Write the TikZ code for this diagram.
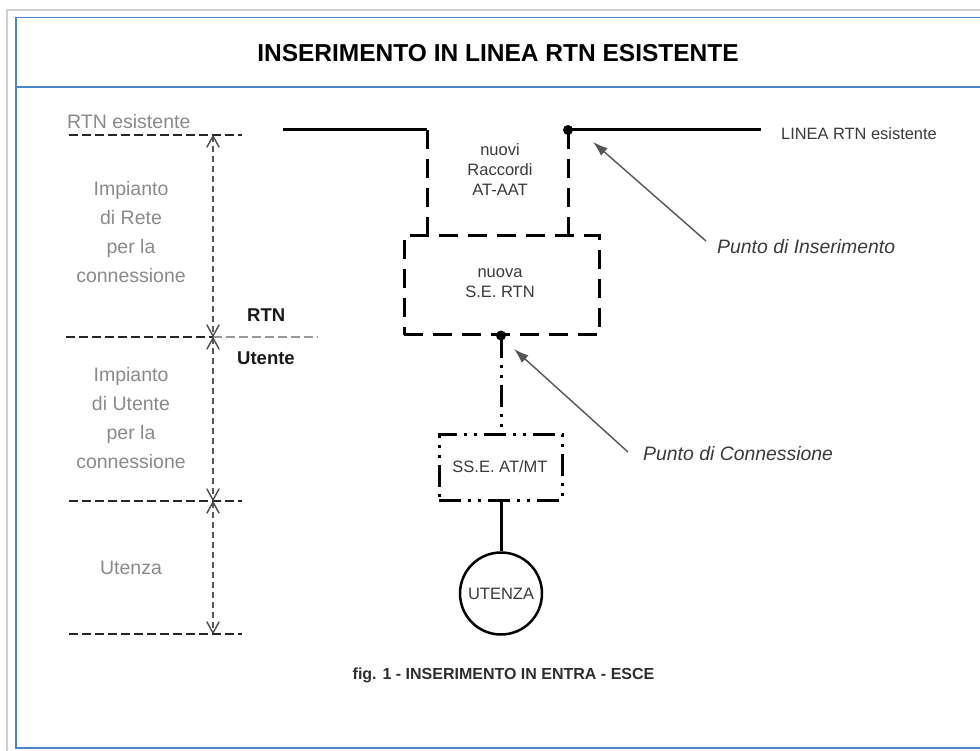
\documentclass[tikz,border=0pt]{standalone}
\usepackage{fontspec}
\setmainfont{Liberation Sans}
\usetikzlibrary{arrows.meta}
\definecolor{frameblue}{HTML}{4A86C5}
\definecolor{framegrey}{HTML}{CFCFCF}
\definecolor{lbl}{HTML}{8A8A8A}
\definecolor{txt}{HTML}{3A3A3A}
\definecolor{ptr}{HTML}{555555}
\tikzset{
  lbltext/.style={inner sep=0pt, text=lbl, align=center, font=\fontsize{19.5}{29.3}\selectfont},
  boldlbl/.style={inner sep=0pt, text=black!90, font=\fontsize{18.5}{22}\selectfont\bfseries},
  dtext/.style={inner sep=0pt, text=txt, align=center, font=\fontsize{16.5}{20}\selectfont},
  itext/.style={inner sep=0pt, text=txt, font=\fontsize{19.4}{22}\selectfont\itshape},
  levelline/.style={line width=1.5pt, black!85, dash pattern=on 9pt off 4pt},
  span/.style={line width=1.2pt, black!65, dash pattern=on 6pt off 4pt},
  barb/.style={line width=1.4pt, black!70, solid, line cap=round, line join=round},
  mainline/.style={line width=3pt, black},
  dashline/.style={line width=3pt, black, dash pattern=on 19pt off 10pt},
  dotdash/.style={line width=3pt, black, dash pattern=on 22pt off 7pt on 3pt off 7pt on 3pt off 7pt},
  pointer/.style={line width=1.4pt, ptr, -{Latex[length=15pt,width=10pt]}},
  junction/.style={circle, fill=black, inner sep=0pt, minimum size=10pt},
}
\begin{document}
\begin{tikzpicture}[x=1pt,y=-1pt]
\useasboundingbox (0,0) rectangle (980,751);
% frame
\draw[framegrey, line width=1.5pt] (980,10) -- (7,10) -- (7,751);
\draw[frameblue, line width=1.8pt] (980,17.5) -- (16,17.5) -- (16,748) -- (980,748);
\draw[frameblue, line width=1.8pt] (16,87) -- (980,87);
\node[inner sep=0pt, font=\fontsize{24.5}{27}\selectfont\bfseries] (title) at (498,53) {INSERIMENTO IN LINEA RTN ESISTENTE};

% left scale
\node[lbltext, anchor=west] (rtnes) at (67,122) {RTN esistente};
\coordinate (l1a) at (69,135);  \coordinate (l1b) at (242,135);
\coordinate (l2a) at (66,337);  \coordinate (l2m) at (213,337); \coordinate (l2b) at (318,337);
\coordinate (l3a) at (69,501);  \coordinate (l3b) at (242,501);
\coordinate (l4a) at (69,634);  \coordinate (l4b) at (242,634);
\draw[levelline] (l1a) -- (l1b);
\draw[levelline] (l2a) -- (l2m);
\draw[levelline, black!40] (l2m) -- (l2b);
\draw[levelline] (l3a) -- (l3b);
\draw[levelline] (l4a) -- (l4b);
\coordinate (a1) at (213,136); \coordinate (a2) at (213,336);
\coordinate (a2b) at (213,338);
\coordinate (a3) at (213,500); \coordinate (a3b) at (213,502);
\coordinate (a4) at (213,633);
\draw[span] (a1) -- (a2);
\draw[span] (a2b) -- (a3);
\draw[span] (a3b) -- (a4);
\foreach \p in {a1,a2b,a3b} \draw[barb] (\p) +(-6,11) -- (\p) -- +(6,11);
\foreach \p in {a2,a3,a4} \draw[barb] (\p) +(-6,-11) -- (\p) -- +(6,-11);
\node[lbltext] (rete) at (131,232) {Impianto\\di Rete\\per la\\connessione};
\node[lbltext] (utimp) at (131,418) {Impianto\\di Utente\\per la\\connessione};
\node[lbltext] (utenza) at (131,568) {Utenza};
\node[boldlbl, anchor=west] (rtn) at (247,315) {RTN};
\node[boldlbl, anchor=west] (utente) at (237,358) {Utente};

% main diagram
\node[draw, dashline, minimum width=195pt, minimum height=99pt, inner sep=0pt] (se) at (501.5,285.5) {};
\node[dtext] (setext) at (500,283.5) {nuova\\S.E. RTN};
\node[dtext] (racc) at (500,170) {nuovi\\Raccordi\\AT-AAT};
\coordinate (lstart) at (283,130);
\coordinate (lcorner) at (427,130);
\node[junction] (p1) at (568,130) {};
\coordinate (lend) at (761,130);
\draw[mainline] (lstart) -- (lcorner);
\draw[dashline] (lcorner) -- (lcorner |- se.north);
\draw[mainline] (p1.center) -- (lend);
\draw[dashline] (p1.center) -- (p1 |- se.north);
\node[dtext, anchor=west, font=\fontsize{16.4}{18}\selectfont] (linea) at (781,134) {LINEA RTN esistente};

\node[junction] (p2) at (501,335.5) {};
\node[draw, dotdash, minimum width=123pt, minimum height=66pt, inner sep=0pt] (sse) at (500.5,467) {};
\node[dtext] (ssetext) at (500,467) {SS.E. AT/MT};
\draw[dotdash] (p2.center) -- (p2 |- sse.north);
\node[draw, circle, line width=2.5pt, minimum size=82pt, inner sep=0pt, text=txt, font=\fontsize{16.5}{20}\selectfont] (ut) at (501,593.5) {UTENZA};
\draw[mainline] (p2 |- sse.south) -- (ut.north);

% pointers
\node[itext, anchor=west] (pins) at (717,247) {Punto di Inserimento};
\coordinate (t1tail) at (706,241); \coordinate (t1tip) at (593,142);
\draw[pointer] (t1tail) -- (t1tip);
\node[itext, anchor=west] (pcon) at (643,454) {Punto di Connessione};
\coordinate (t2tail) at (628,452); \coordinate (t2tip) at (514,349);
\draw[pointer] (t2tail) -- (t2tip);

\node[inner sep=0pt, text=txt!80!black, font=\fontsize{16}{18}\selectfont\bfseries] (cap) at (503.5,675) {fig. 1 - INSERIMENTO IN ENTRA - ESCE};
\end{tikzpicture}
\end{document}
